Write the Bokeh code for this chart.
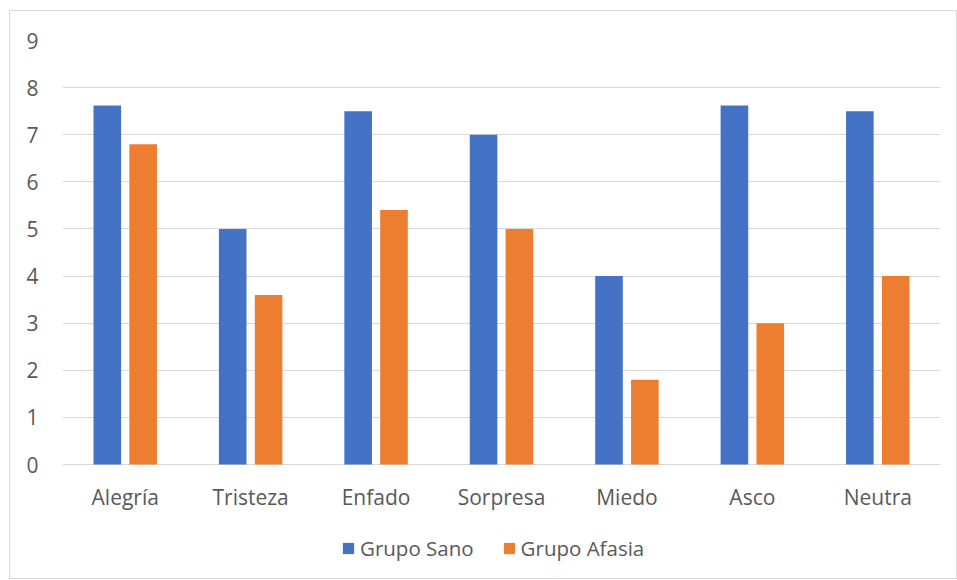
from bokeh.plotting import figure
from bokeh.models import ColumnDataSource, FactorRange, Legend, LegendItem
from bokeh.core.properties import value
from bokeh.transform import dodge
from bokeh.embed import file_html
from bokeh.resources import INLINE

categories = ["Alegría", "Tristeza", "Enfado", "Sorpresa", "Miedo", "Asco", "Neutra"]
grupo_sano = [7.62, 5.0, 7.5, 7.0, 4.0, 7.62, 7.5]
grupo_afasia = [6.8, 3.6, 5.4, 5.0, 1.8, 3.0, 4.0]
series_names = ["Grupo Sano", "Grupo Afasia"]
y_ticks = [0, 1, 2, 3, 4, 5, 6, 7, 8, 9]

FONT = "Open Sans"
TEXT = "#595959"
GRID = "#d9d9d9"
BLUE = "#4472C4"
ORANGE = "#ED7D31"

# frame: 0..9 spans 424 px; extra space below the axis holds labels + legend
PX_PER_UNIT = 424 / 9
Y_LOW = -116 / PX_PER_UNIT

source = ColumnDataSource(dict(cat=categories, sano=grupo_sano, afasia=grupo_afasia,
                               base=[0] * len(categories)))

p = figure(
    x_range=FactorRange(*categories, range_padding=0),
    y_range=(Y_LOW, max(y_ticks)),
    width=948, height=569,
    min_border_left=52, min_border_right=18, min_border_top=29, min_border_bottom=0,
    output_backend="svg", toolbar_location=None,
)
p.styles = {"border": "1px solid #d9d9d9", "margin-left": "9px", "margin-top": "10px"}

r1 = p.vbar(x=dodge("cat", -0.143, range=p.x_range), top="sano", width=0.22,
            source=source, color=BLUE, line_color=None)
r2 = p.vbar(x=dodge("cat", 0.143, range=p.x_range), top="afasia", width=0.22,
            source=source, color=ORANGE, line_color=None)

# category labels under the zero line
p.text(x="cat", y="base", text="cat", source=source, y_offset=32,
       text_align="center", text_baseline="middle",
       text_font=value(FONT), text_font_size="21px", text_color=TEXT)

p.outline_line_color = None
p.xgrid.grid_line_color = None
p.ygrid.grid_line_color = GRID
p.ygrid.grid_line_width = 1
p.yaxis.ticker = y_ticks
p.xaxis.visible = False

ax = p.yaxis[0]
ax.axis_line_color = None
ax.major_tick_line_color = None
ax.minor_tick_line_color = None
ax.major_label_text_font = FONT
ax.major_label_text_font_size = "21px"
ax.major_label_text_color = TEXT
ax.major_label_standoff = 18

legend = Legend(
    items=[LegendItem(label=series_names[0], renderers=[r1]),
           LegendItem(label=series_names[1], renderers=[r2])],
    orientation="horizontal", location=(279, 18),
    border_line_color=None, background_fill_alpha=0,
    glyph_width=14, glyph_height=14, label_standoff=5, spacing=28,
    label_text_font=FONT, label_text_font_size="20.5px", label_text_color=TEXT,
    padding=0, margin=0,
)
p.add_layout(legend, "center")

open("out.html", "w").write(file_html(p, INLINE))
